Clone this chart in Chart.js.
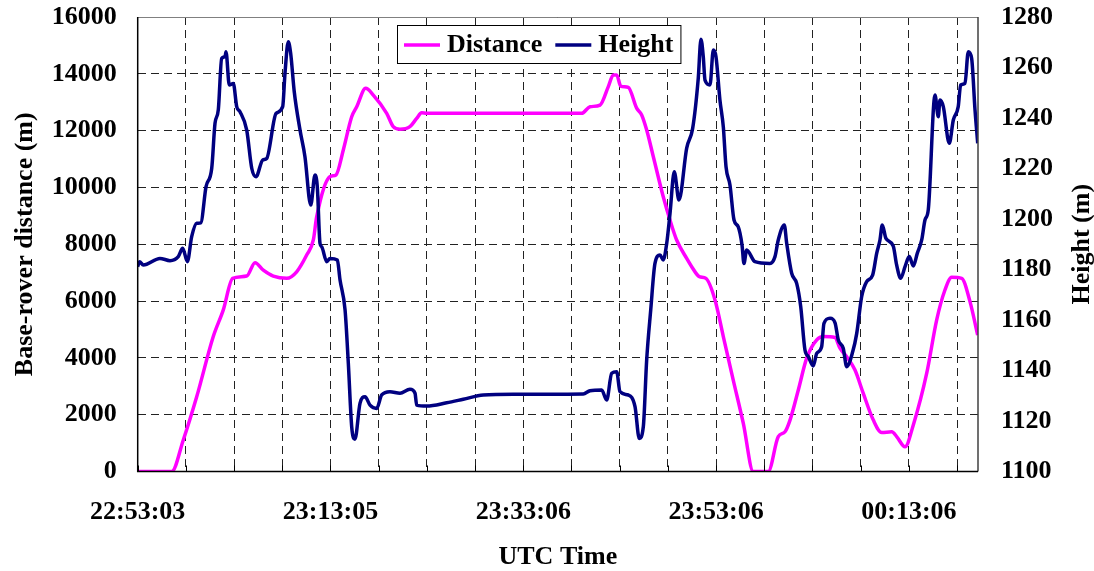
<!DOCTYPE html>
<html>
<head>
<meta charset="utf-8">
<script src="https://cdn.jsdelivr.net/npm/chart.js@4.4.1/dist/chart.umd.min.js"></script>
<style>
  html, body { margin: 0; padding: 0; background: #fff; }
  canvas { display: block; }
</style>
</head>
<body>
<canvas id="chart" width="1094" height="571"></canvas>
<script>
// Time axis: minutes elapsed since 22:53:03 UTC
const xGridMinutes = [0, 5, 10, 15, 20, 25, 30, 35, 40, 45, 50, 55, 60, 65, 70, 75, 80, 85];
const labelMinutes = [0, 20, 40, 60, 80];
const tickLabels = ['22:53:03', '23:13:05', '23:33:06', '23:53:06', '00:13:06'];

// Base-rover distance (m)
const distMinutes = [0, 3.53, 4.73, 6.12, 7.84, 8.88, 9.85, 11.31, 12.17, 13.03, 14.07, 15.46, 16.49, 17.53, 18.22,
  18.57, 19.95, 20.57, 21.33, 22.20, 22.72, 23.65, 24.44, 25.83, 26.51, 27.21, 28.24, 28.94, 29.46, 29.98,
  46.06, 46.92, 47.96, 48.82, 49.34, 49.69, 50.10, 50.89, 51.76, 52.28, 52.80, 53.49, 54.52, 55.22, 55.91,
  56.95, 57.47, 58.26, 58.95, 59.89, 60.75, 61.78, 62.82, 63.86, 65.41, 66.45, 67.15, 67.67, 68.53, 69.40,
  70.44, 71.12, 72.33, 72.85, 73.55, 74.41, 75.27, 76.31, 77.18, 78.22, 78.73, 79.60, 80.46, 81.85, 82.88,
  83.74, 84.44, 85.48, 86.34, 87.14];
const distMeters = [0, 0, 1110, 2630, 4750, 5690, 6800, 6880, 7350, 7090, 6880, 6800, 7030, 7620, 8150,
  8970, 10380, 10440, 11320, 12490, 12840, 13490, 13250, 12610, 12140, 12050, 12140, 12430, 12630, 12610,
  12610, 12840, 12900, 13550, 13960, 13960, 13570, 13520, 12790, 12550, 12020, 11080, 9670, 8850, 8150,
  7500, 7210, 6860, 6800, 6040, 4750, 3220, 1700, 0, 0, 1230, 1400, 1810, 2870, 3990,
  4630, 4750, 4720, 4340, 4040, 3570, 2750, 1810, 1370, 1400, 1230, 870, 1640, 3460, 5330,
  6390, 6840, 6800, 5980, 4800];

// Rover height (m)
const heightMinutes = [0, 0.19, 0.58, 2.31, 3.35, 4.21, 4.67, 5.15, 5.60, 6.12, 6.54, 7.09, 7.68, 8.02, 8.36,
  8.71, 9.06, 9.16, 9.50, 9.92, 10.27, 10.61, 11.31, 11.83, 12.27, 12.97, 13.38, 14.35, 15.04, 15.28,
  15.62, 15.87, 16.24, 16.84, 17.35, 17.95, 18.39, 18.63, 18.91, 19.09, 19.61, 19.95, 20.71, 20.99, 21.51,
  21.85, 22.20, 22.54, 23.06, 23.58, 24.10, 24.79, 25.31, 26.17, 27.21, 28.24, 28.77, 28.94, 29.98, 32.05,
  33.78, 35.85, 38.96, 42.43, 46.22, 46.92, 48.13, 48.65, 49.17, 49.69, 50.03, 50.89, 51.59, 52.03, 52.45,
  52.80, 53.22, 53.66, 54.18, 54.52, 54.88, 55.22, 55.66, 56.15, 56.95, 57.57, 58.15, 58.43, 58.67, 58.85,
  59.37, 59.71, 59.99, 60.40, 60.75, 61.03, 61.44, 61.86, 62.30, 62.69, 62.89, 63.17, 64.03, 65.59, 66.11,
  66.45, 67.08, 67.32, 67.84, 68.36, 68.78, 69.22, 69.57, 70.08, 70.44, 70.95, 71.19, 71.82, 72.34, 72.68,
  73.19, 73.55, 74.17, 74.59, 75.10, 75.62, 76.24, 76.66, 77.00, 77.24, 77.62, 78.38, 78.73, 79.15, 79.60,
  80.04, 80.46, 80.87, 81.33, 81.67, 82.01, 82.71, 83.05, 83.23, 83.57, 84.19, 84.61, 85.12, 85.37, 85.82,
  86.16, 86.51, 86.86, 87.14];
const heightMeters = [1181.1, 1183.1, 1181.8, 1184.4, 1183.5, 1185.1, 1188.4, 1183.1, 1193.0, 1198.3, 1198.5, 1212.8, 1220.1, 1237.9, 1243.2,
  1263.6, 1264.3, 1266.2, 1253.1, 1253.7, 1244.5, 1242.5, 1235.2, 1220.1, 1216.7, 1223.4, 1224.0, 1241.8, 1244.5, 1257.7,
  1270.2, 1265.6, 1250.4, 1235.2, 1224.7, 1205.5, 1217.4, 1212.8, 1190.4, 1189.0, 1183.1, 1184.4, 1183.8, 1175.8, 1164.0,
  1142.8, 1117.7, 1112.8, 1127.0, 1129.6, 1126.3, 1125.0, 1130.3, 1131.6, 1131.0, 1132.6, 1131.0, 1126.3, 1125.9, 1127.2,
  1128.6, 1130.3, 1130.6, 1130.6, 1130.7, 1132.0, 1132.3, 1128.3, 1138.9, 1139.5, 1131.6, 1130.3, 1125.7, 1113.1, 1117.7,
  1144.2, 1164.0, 1182.4, 1185.7, 1183.8, 1190.4, 1202.2, 1218.7, 1207.5, 1228.1, 1235.9, 1255.7, 1271.2, 1264.3, 1255.0,
  1253.1, 1266.9, 1264.3, 1247.1, 1236.5, 1220.7, 1213.5, 1199.6, 1196.9, 1189.7, 1182.4, 1187.7, 1183.1, 1182.4, 1185.1,
  1191.7, 1197.6, 1190.5, 1178.5, 1174.5, 1165.3, 1148.1, 1145.5, 1141.8, 1146.8, 1149.4, 1158.7, 1160.7, 1158.9, 1152.1,
  1148.8, 1141.5, 1147.4, 1154.7, 1169.2, 1175.2, 1177.8, 1186.4, 1191.7, 1197.6, 1192.3, 1189.3, 1181.8, 1176.5, 1181.1,
  1185.1, 1181.4, 1186.4, 1191.7, 1199.6, 1203.6, 1249.1, 1240.5, 1247.1, 1244.5, 1230.0, 1239.2, 1244.5, 1253.1, 1253.7,
  1266.2, 1263.6, 1243.2, 1230.0];

const FONT_FAMILY = "'Liberation Serif', 'Times New Roman', serif";

// Plot frame, inner tick marks, the right-hand axis title and a boxed legend
const decorations = {
  id: 'decorations',
  afterDraw(chart, args, opts) {
    const { ctx, chartArea: a, scales } = chart;
    ctx.save();

    // short tick marks rising from the time axis
    ctx.strokeStyle = '#000';
    ctx.lineWidth = 1;
    scales.x.ticks.forEach(t => {
      const px = Math.round(scales.x.getPixelForValue(t.value)) + 0.5;
      ctx.beginPath();
      ctx.moveTo(px, a.bottom);
      ctx.lineTo(px, a.bottom - 6);
      ctx.stroke();
    });

    // frame
    ctx.lineWidth = 1;
    ctx.strokeStyle = '#808080';
    ctx.beginPath(); ctx.moveTo(a.left, a.top + 0.5); ctx.lineTo(a.right, a.top + 0.5); ctx.stroke();
    ctx.strokeStyle = '#404040';
    ctx.lineWidth = 1.5;
    ctx.beginPath(); ctx.moveTo(a.right, a.top); ctx.lineTo(a.right, a.bottom); ctx.stroke();
    ctx.strokeStyle = '#000';
    ctx.beginPath(); ctx.moveTo(a.left, a.top); ctx.lineTo(a.left, a.bottom); ctx.lineTo(a.right, a.bottom); ctx.stroke();

    // right axis title, reading bottom-to-top
    const font = `bold ${opts.fontSize}px ${FONT_FAMILY}`;
    ctx.font = font;
    ctx.fillStyle = '#000';
    ctx.save();
    ctx.translate(opts.rightTitleX, (a.top + a.bottom) / 2);
    ctx.rotate(-Math.PI / 2);
    ctx.textAlign = 'center';
    ctx.textBaseline = 'middle';
    ctx.fillText(opts.rightTitle, 0, 0);
    ctx.restore();

    // legend
    const items = chart.data.datasets.map(ds => ({ text: ds.label, color: ds.borderColor, width: ds.borderWidth }));
    const pad = opts.legendPad, lineLen = opts.legendLine, gap = opts.legendGap, itemGap = opts.legendItemGap;
    let w = pad * 2;
    items.forEach((it, i) => { w += lineLen + gap + ctx.measureText(it.text).width + (i < items.length - 1 ? itemGap : 0); });
    const h = opts.legendHeight;
    const lx = opts.legendX, ly = opts.legendY;
    ctx.fillStyle = '#fff';
    ctx.fillRect(lx, ly, w, h);
    ctx.strokeStyle = '#000';
    ctx.lineWidth = 1;
    ctx.strokeRect(lx + 0.5, ly + 0.5, w, h);
    let x = lx + pad;
    const cy = ly + h / 2 + 1;
    items.forEach(it => {
      ctx.strokeStyle = it.color;
      ctx.lineWidth = it.width;
      ctx.beginPath(); ctx.moveTo(x, cy); ctx.lineTo(x + lineLen, cy); ctx.stroke();
      x += lineLen + gap;
      ctx.fillStyle = '#000';
      ctx.textAlign = 'left';
      ctx.textBaseline = 'middle';
      ctx.fillText(it.text, x, cy);
      x += ctx.measureText(it.text).width + itemGap;
    });
    ctx.restore();
  }
};

// Fixed axis widths; tick padding should not push the plot area down
const fixVertical = width => s => { s.width = width; s.paddingTop = 0; s.paddingBottom = 0; };

Chart.defaults.font.family = FONT_FAMILY;
Chart.defaults.font.size = 26;
Chart.defaults.font.weight = 'bold';
Chart.defaults.color = '#000';

new Chart(document.getElementById('chart'), {
  type: 'line',
  data: {
    datasets: [
      {
        label: 'Distance',
        data: distMinutes.map((m, i) => ({ x: m, y: distMeters[i] })),
        yAxisID: 'y',
        borderColor: '#FF00FF',
        borderWidth: 3.5,
        pointRadius: 0,
        cubicInterpolationMode: 'monotone',
        order: 1
      },
      {
        label: 'Height',
        data: heightMinutes.map((m, i) => ({ x: m, y: heightMeters[i] })),
        yAxisID: 'y1',
        borderColor: '#000080',
        borderWidth: 3.5,
        pointRadius: 0,
        cubicInterpolationMode: 'monotone',
        order: 0
      }
    ]
  },
  options: {
    responsive: false,
    animation: false,
    layout: { padding: { top: 17, left: 0, right: 0, bottom: 0 } },
    plugins: {
      legend: { display: false },
      tooltip: { enabled: false },
      decorations: {
        fontSize: 26,
        rightTitle: 'Height (m)',
        rightTitleX: 1082,
        legendX: 397, legendY: 25, legendHeight: 38,
        legendPad: 7, legendLine: 36, legendGap: 7, legendItemGap: 13
      }
    },
    scales: {
      x: {
        type: 'linear',
        position: 'bottom',
        min: 0,
        max: 87.17,
        afterBuildTicks: s => { s.ticks = xGridMinutes.map(v => ({ value: v })); },
        afterFit: s => { s.height = 99.5; },
        ticks: {
          autoSkip: false,
          maxRotation: 0,
          padding: 25,
          callback: v => { const i = labelMinutes.indexOf(v); return i >= 0 ? tickLabels[i] : ''; }
        },
        grid: { color: '#222', lineWidth: 1, drawTicks: false },
        border: { display: false, dash: [8, 5] },
        title: {
          display: true,
          text: 'UTC Time',
          font: { size: 26, weight: 'bold', lineHeight: 1 },
          padding: { top: 0, bottom: 1 }
        }
      },
      y: {
        type: 'linear',
        position: 'left',
        min: 0,
        max: 16000,
        afterFit: fixVertical(137.7),
        ticks: { stepSize: 2000, padding: 21, callback: v => String(v) },
        grid: { color: '#222', lineWidth: 1, drawTicks: false },
        border: { display: false, dash: [8, 5] },
        title: {
          display: true,
          text: 'Base-rover distance (m)',
          font: { size: 26, weight: 'bold', lineHeight: 1 },
          padding: { top: 12, bottom: 0 }
        }
      },
      y1: {
        type: 'linear',
        position: 'right',
        min: 1100,
        max: 1280,
        afterFit: fixVertical(116),
        ticks: { stepSize: 20, padding: 23, callback: v => String(v) },
        grid: { display: false, drawTicks: false },
        border: { display: false }
      }
    }
  },
  plugins: [decorations]
});
</script>
</body>
</html>
